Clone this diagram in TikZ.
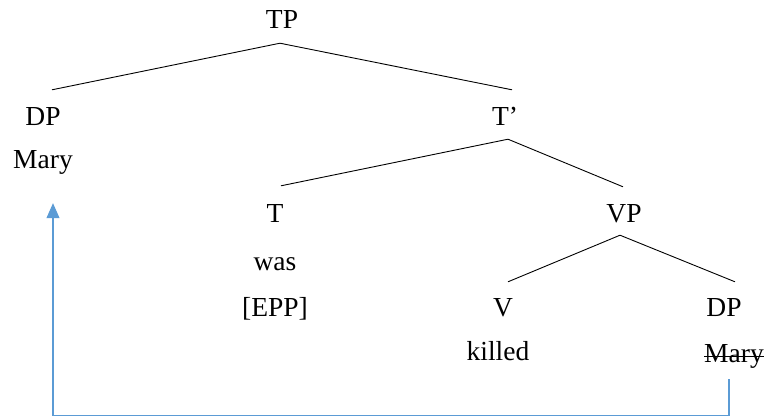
\documentclass[tikz,border=0pt]{standalone}
\usepackage{fontspec}
\setmainfont{Liberation Serif}
\newfontfamily\treefont{Liberation Serif}
\usetikzlibrary{arrows.meta}
\definecolor{movecol}{HTML}{5B9BD5}
\begin{document}
\begin{tikzpicture}[x=1pt,y=-1pt,
  lbl/.style={inner sep=0pt, text height=19pt, text depth=6pt, anchor=base,
    font=\treefont\fontsize{27.5}{33}\selectfont},
  branch/.style={line width=0.9pt, black},
  movement/.style={line width=1.1pt, movecol, -{Triangle[length=15pt,width=13pt]}}]
\useasboundingbox (0,0) rectangle (767,416);

% labels (x = centre, y = baseline)
\node[lbl] (tp)    at (282,28)  {TP};
\node[lbl] (dpa)   at (43,125)  {DP};
\node[lbl] (marya) at (43,168)  {Mary};
\node[lbl] (tbar)  at (505,125) {T’};
\node[lbl] (t)     at (275,222) {T};
\node[lbl] (was)   at (275,270) {was};
\node[lbl] (epp)   at (275,316) {[EPP]};
\node[lbl] (vp)    at (624,222) {VP};
\node[lbl] (v)     at (503,316) {V};
\node[lbl] (killed) at (498,360) {killed};
\node[lbl] (dpb)   at (724,316) {DP};
\node[lbl] (maryb) at (734,362) {Mary};

% strikethrough on the lower copy
\draw[line width=0.9pt] ([yshift=6pt]maryb.base west) -- ([yshift=6pt]maryb.base east);

% branches
\draw[branch] ([xshift=-2pt,yshift=-9pt]tp.south) -- ([xshift=9pt,yshift=16pt]dpa.north);
\draw[branch] ([xshift=-2pt,yshift=-9pt]tp.south) -- ([xshift=7pt,yshift=16pt]tbar.north);
\draw[branch] ([xshift=3pt,yshift=-8pt]tbar.south) -- ([xshift=6pt,yshift=17pt]t.north);
\draw[branch] ([xshift=3pt,yshift=-8pt]tbar.south) -- ([xshift=-1pt,yshift=16pt]vp.north);
\draw[branch] ([xshift=-4pt,yshift=-7pt]vp.south) -- ([xshift=5pt,yshift=15pt]v.north);
\draw[branch] ([xshift=-4pt,yshift=-7pt]vp.south) -- ([xshift=11pt,yshift=15pt]dpb.north);

% movement arrow
\draw[movement] ([xshift=-5pt,yshift=-11pt]maryb.south) -- ++(0,36)
  -| ([xshift=10pt,yshift=-29pt]marya.south);
\end{tikzpicture}
\end{document}
